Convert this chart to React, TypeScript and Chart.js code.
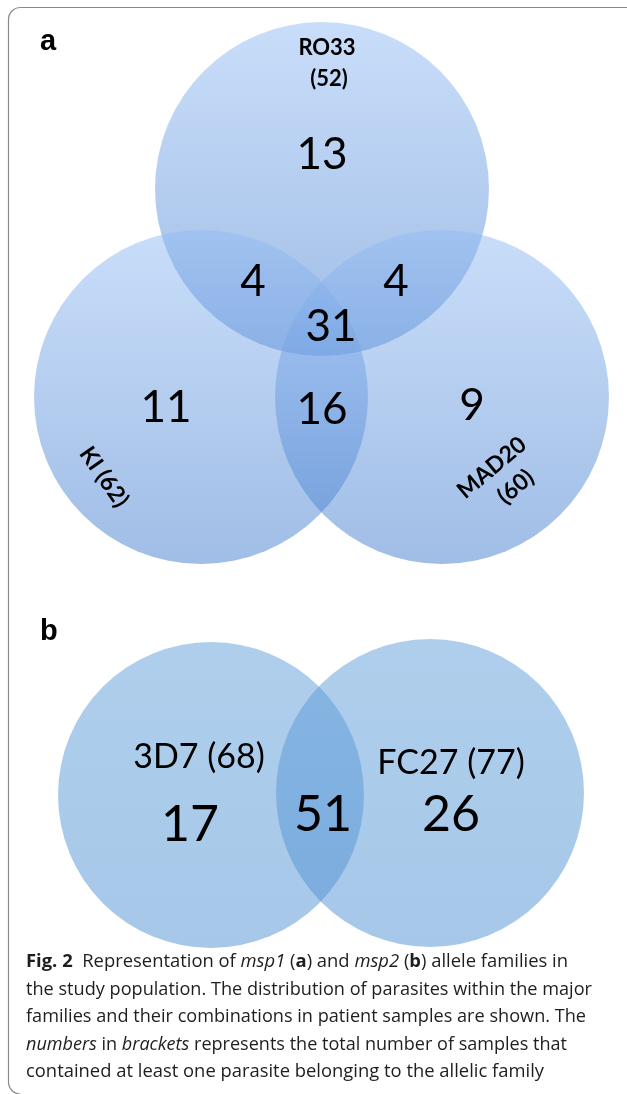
import React, { useEffect, useRef } from "react";
import { Chart, registerables } from "chart.js";

Chart.register(...registerables);

// ---- data ----
const msp1Families = ["RO33", "KI", "MAD20"];
const msp1Totals = [52, 62, 60];
const msp1Regions = ["RO33 only", "RO33+KI", "RO33+MAD20", "RO33+KI+MAD20", "KI only", "KI+MAD20", "MAD20 only"];
const msp1Counts = [13, 4, 4, 31, 11, 16, 9];

const msp2Families = ["3D7", "FC27"];
const msp2Totals = [68, 77];
const msp2Regions = ["3D7 only", "3D7+FC27", "FC27 only"];
const msp2Counts = [17, 51, 26];

// ---- layout (page units, 1 unit = 1 px) ----
const W = 627;
const H = 1094;
const circlesA = [
  { x: 322, y: 189, r: 167 },
  { x: 201, y: 397, r: 167 },
  { x: 442, y: 397, r: 167 },
];
const circlesB = [
  { x: 211, y: 795, r: 153 },
  { x: 430, y: 793, r: 154 },
];
const regionPosA = [
  [322, 155], [253, 282], [396, 282], [331, 327], [166, 408], [322, 410], [472, 406],
];
const regionPosB = [[190, 825], [323, 815], [451, 815]];

type Seg = { t: string; f: string };
const captionLines: { segs: Seg[]; w: number }[] = [
  { segs: [{ t: "Fig. 2", f: "bold" }, { t: "  Representation of ", f: "" }, { t: "msp1", f: "italic" }, { t: " (", f: "" }, { t: "a", f: "bold" }, { t: ") and ", f: "" }, { t: "msp2", f: "italic" }, { t: " (", f: "" }, { t: "b", f: "bold" }, { t: ") allele families in", f: "" }], w: 542 },
  { segs: [{ t: "the study population. The distribution of parasites within the major", f: "" }], w: 566 },
  { segs: [{ t: "families and their combinations in patient samples are shown. The", f: "" }], w: 560 },
  { segs: [{ t: "numbers", f: "italic" }, { t: " in ", f: "" }, { t: "brackets", f: "italic" }, { t: " represents the total number of samples that", f: "" }], w: 541 },
  { segs: [{ t: "contained at least one parasite belonging to the allelic family", f: "" }], w: 518 },
];

export default function App() {
  const ref = useRef<HTMLCanvasElement | null>(null);
  useEffect(() => {
    if (!ref.current) return;
    const gradFor = (c: any, top: string, bottom: string) => {
      const chart = c.chart;
      const ys = chart.scales && chart.scales.y;
      const p = c.raw;
      if (!p || !ys) return top;
      const y0 = ys.getPixelForValue(p.y - p.r);
      const y1 = ys.getPixelForValue(p.y + p.r);
      if (!isFinite(y0) || !isFinite(y1)) return top;
      const g = chart.ctx.createLinearGradient(0, y0, 0, y1);
      g.addColorStop(0, top);
      g.addColorStop(1, bottom);
      return g;
    };
    const radiusFor = (c: any) => {
      const xs = c.chart.scales && c.chart.scales.x;
      const p = c.raw;
      if (!p || !xs) return 0;
      const v = xs.getPixelForValue(p.r) - xs.getPixelForValue(0);
      return isFinite(v) ? v : 0;
    };

    const textPlugin = {
      id: "vennText",
      afterDatasetsDraw(chart: any) {
        const ctx = chart.ctx as CanvasRenderingContext2D;
        const xs = chart.scales.x;
        const ys = chart.scales.y;
        const px = (v: number) => xs.getPixelForValue(v);
        const py = (v: number) => ys.getPixelForValue(v);
        ctx.save();
        // frame
        ctx.strokeStyle = "#8a8a8a";
        ctx.lineWidth = 1.2;
        ctx.beginPath();
        const r = 12;
        ctx.moveTo(px(W + 5), py(7.5));
        ctx.lineTo(px(8.5 + r), py(7.5));
        ctx.arcTo(px(8.5), py(7.5), px(8.5), py(7.5 + r), r);
        ctx.lineTo(px(8.5), py(1094 - r));
        ctx.arcTo(px(8.5), py(1094), px(8.5 + r), py(1094), r);
        ctx.stroke();

        ctx.fillStyle = "#000";
        ctx.textAlign = "left";
        ctx.textBaseline = "alphabetic";
        ctx.font = "bold 29px 'Liberation Sans', Arial, sans-serif";
        ctx.fillText("a", px(40), py(50));
        ctx.fillText("b", px(40), py(640));

        ctx.textAlign = "center";
        ctx.textBaseline = "middle";
        // panel a labels
        ctx.font = "bold 22px Lato, sans-serif";
        ctx.fillText(msp1Families[0], px(327), py(48));
        ctx.fillText(`(${msp1Totals[0]})`, px(329), py(79));

        ctx.font = "bold 23px Lato, sans-serif";
        ctx.save();
        ctx.translate(px(104), py(477));
        ctx.rotate((55 * Math.PI) / 180);
        ctx.fillText(`${msp1Families[1]} (${msp1Totals[1]})`, 0, 0);
        ctx.restore();

        ctx.save();
        ctx.translate(px(503), py(478));
        ctx.rotate((-40 * Math.PI) / 180);
        ctx.fillText(msp1Families[2], -2, -15);
        ctx.fillText(`(${msp1Totals[2]})`, 4, 15);
        ctx.restore();

        ctx.font = "44px Lato, sans-serif";
        msp1Counts.forEach((v, i) => {
          ctx.fillText(String(v), px(regionPosA[i][0]), py(regionPosA[i][1]));
        });

        // panel b
        ctx.font = "34px Lato, sans-serif";
        ctx.fillText(`${msp2Families[0]} (${msp2Totals[0]})`, px(199), py(757));
        ctx.fillText(`${msp2Families[1]} (${msp2Totals[1]})`, px(451), py(763));
        ctx.font = "50px Lato, sans-serif";
        msp2Counts.forEach((v, i) => {
          ctx.fillText(String(v), px(regionPosB[i][0]), py(regionPosB[i][1]));
        });

        // caption
        ctx.textAlign = "left";
        ctx.textBaseline = "alphabetic";
        const base = 967;
        const lh = 27.5;
        const fam = "'Open Sans', sans-serif";
        const fontOf = (f: string) => `${f === "bold" ? "bold " : f === "italic" ? "italic " : ""}18px ${fam}`;
        captionLines.forEach((line, li) => {
          let total = 0;
          line.segs.forEach((s) => {
            ctx.font = fontOf(s.f);
            total += ctx.measureText(s.t).width;
          });
          const sx = line.w / total;
          ctx.save();
          ctx.translate(px(26), py(base + li * lh));
          ctx.scale(sx, 1);
          let x = 0;
          line.segs.forEach((s) => {
            ctx.font = fontOf(s.f);
            ctx.fillStyle = "#1e1e1e";
            ctx.fillText(s.t, x, 0);
            x += ctx.measureText(s.t).width;
          });
          ctx.restore();
        });
        ctx.restore();
      },
    };

    const chart = new Chart(ref.current, {
      type: "scatter",
      data: {
        datasets: [
          {
            label: "msp1",
            data: circlesA.map((c, i) => ({ ...c, name: msp1Families[i] })) as any,
            backgroundColor: (c: any) => gradFor(c, "rgba(147,188,244,0.5)", "rgba(66,124,205,0.5)"),
            pointRadius: radiusFor as any,
            pointHoverRadius: radiusFor as any,
            pointBorderWidth: 0,
            borderWidth: 0,
          },
          {
            label: "msp2",
            data: circlesB.map((c, i) => ({ ...c, name: msp2Families[i] })) as any,
            backgroundColor: (c: any) => gradFor(c, "rgba(96,158,218,0.5)", "rgba(78,144,210,0.5)"),
            pointRadius: radiusFor as any,
            pointHoverRadius: radiusFor as any,
            pointBorderWidth: 0,
            borderWidth: 0,
          },
        ],
      },
      options: {
        animation: false,
        responsive: false,
        events: [],
        layout: { padding: 0 },
        plugins: { legend: { display: false }, tooltip: { enabled: false }, title: { display: false } },
        scales: {
          x: { type: "linear", min: 0, max: W, display: false },
          y: { type: "linear", min: 0, max: H, reverse: true, display: false },
        },
      },
      plugins: [textPlugin],
    });
    return () => chart.destroy();
  }, []);
  return (
    <canvas
      ref={ref}
      width={W}
      height={H}
      style={{ position: "absolute", left: 0, top: 0, width: W, height: H, background: "#fff" }}
      data-regions={msp1Regions.join("|") + "|" + msp2Regions.join("|")}
    />
  );
}
